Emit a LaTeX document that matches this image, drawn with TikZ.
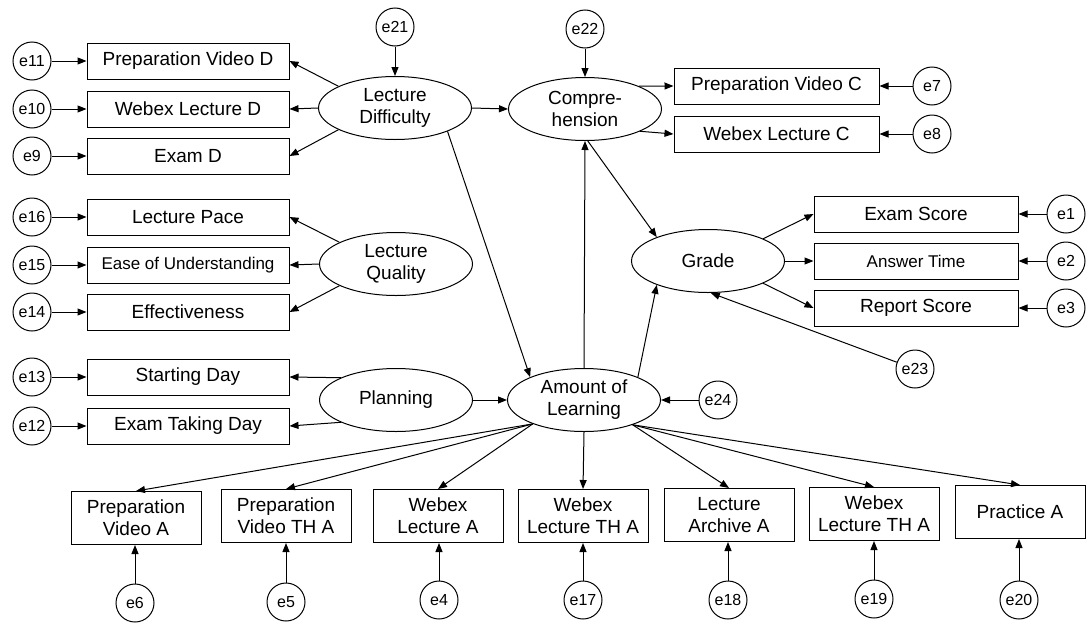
\documentclass[tikz,border=0pt]{standalone}
\usepackage{fontspec}
\setmainfont{Liberation Sans}
\usetikzlibrary{arrows.meta,shapes.geometric}
\begin{document}
\begin{tikzpicture}[x=1pt,y=-1pt,
  every node/.style={font=\fontsize{19}{22}\selectfont, text=black},
  lat/.style={draw, ellipse, line width=1pt, minimum width=153pt, minimum height=63pt, inner sep=0pt, align=center},
  obs/.style={draw, rectangle, line width=1pt, minimum width=202pt, minimum height=36pt, inner sep=0pt, align=center},
  obsr/.style={obs, minimum width=204pt},
  obsb/.style={draw, rectangle, line width=1pt, minimum width=130pt, minimum height=53pt, inner sep=0pt, align=center},
  err/.style={draw, circle, line width=1pt, minimum size=38pt, inner sep=0pt, font=\fontsize{16}{18}\selectfont},
  arr/.style={-{Triangle[length=9pt,width=7pt]}, line width=1pt},
  smalltext/.style={font=\fontsize{17}{20}\selectfont}
]
\useasboundingbox (0,0) rectangle (1086,624);

% latent variables
\node[lat] (ld) at (395,108) {Lecture\\Difficulty};
\node[lat] (comp) at (585,109) {Compre-\\hension};
\node[lat] (lq) at (396,264) {Lecture\\Quality};
\node[lat] (plan) at (396,400) {Planning};
\node[lat] (aol) at (584,400) {Amount of\\Learning};
\node[lat] (grade) at (708,261) {Grade};

% left observed
\node[obs] (pvd) at (188,61) {Preparation Video D};
\node[obs] (wld) at (188,109) {Webex Lecture D};
\node[obs] (ed) at (188,156) {Exam D};
\node[obs] (lp) at (188,217) {Lecture Pace};
\node[obs,smalltext] (eou) at (188,265) {Ease of Understanding};
\node[obs] (eff) at (188,312) {Effectiveness};
\node[obs] (sd) at (188,377) {Starting Day};
\node[obs] (etd) at (188,426) {Exam Taking Day};

% right observed
\node[obs, minimum width=205pt] (pvc) at (776.5,86) {Preparation Video C};
\node[obs, minimum width=205pt] (wlc) at (776.5,134) {Webex Lecture C};
\node[obsr] (es) at (916,214) {Exam Score};
\node[obsr,smalltext] (at) at (916,261) {Answer Time};
\node[obsr] (rs) at (916,308) {Report Score};

% bottom observed
\node[obsb] (pva) at (136,518) {Preparation\\Video A};
\node[obsb] (pvtha) at (286,516) {Preparation\\Video TH A};
\node[obsb] (wla) at (438,516) {Webex\\Lecture A};
\node[obsb] (wltha) at (583,516) {Webex\\Lecture TH A};
\node[obsb] (laa) at (729,515) {Lecture\\Archive A};
\node[obsb] (wlthb) at (874,514) {Webex\\Lecture TH A};
\node[obsb] (pa) at (1020,512) {Practice A};

% error terms
\node[err] (e11) at (32,61) {e11};
\node[err] (e10) at (32,109) {e10};
\node[err] (e9) at (32,156) {e9};
\node[err] (e16) at (32,217) {e16};
\node[err] (e15) at (32,265) {e15};
\node[err] (e14) at (32,312) {e14};
\node[err] (e13) at (32,377) {e13};
\node[err] (e12) at (32,426) {e12};
\node[err] (e21) at (395,27) {e21};
\node[err] (e22) at (585,29) {e22};
\node[err] (e7) at (932,86) {e7};
\node[err] (e8) at (932,134) {e8};
\node[err] (e1) at (1066,214) {e1};
\node[err] (e2) at (1066,261) {e2};
\node[err] (e3) at (1066,308) {e3};
\node[err] (e23) at (915,369) {e23};
\node[err] (e24) at (718,400) {e24};
\node[err] (e6) at (135,603) {e6};
\node[err] (e5) at (286,602) {e5};
\node[err] (e4) at (439,600) {e4};
\node[err] (e17) at (583,600) {e17};
\node[err] (e18) at (728,600) {e18};
\node[err] (e19) at (874,599) {e19};
\node[err] (e20) at (1019,600) {e20};

% error arrows
\foreach \e/\b in {e11/pvd,e10/wld,e9/ed,e16/lp,e15/eou,e14/eff,e13/sd,e12/etd}
  \draw[arr] (\e) -- (\e -| \b.west);
\foreach \e/\b in {e7/pvc,e8/wlc,e1/es,e2/at,e3/rs}
  \draw[arr] (\e) -- (\e -| \b.east);
\foreach \e/\b in {e6/pva,e5/pvtha,e4/wla,e17/wltha,e18/laa,e19/wlthb,e20/pa}
  \draw[arr] (\e) -- (\e |- \b.south);
\draw[arr] (e21) -- (ld);
\draw[arr] (e22) -- (comp);
\draw[arr] (e24) -- (aol.east);
\draw[arr] (e23) -- (grade.-85);

% measurement arrows
\draw[arr] (ld.159) -- (pvd.east);
\draw[arr] (ld.west) -- (wld.east);
\draw[arr] (ld.201) -- (ed.east);
\draw[arr] (lq.159) -- (lp.east);
\draw[arr] (lq.west) -- (eou.east);
\draw[arr] (lq.201) -- (eff.east);
\draw[arr] (plan.158) -- (sd.east);
\draw[arr] (plan.202) -- (etd.east);
\draw[arr] (comp.23.5) -- (pvc.west);
\draw[arr] (comp.-22) -- (wlc.west);
\draw[arr] (grade.22) -- (es.west);
\draw[arr] (grade.east) -- (at.west);
\draw[arr] (grade.-22) -- (rs.west);
\draw[arr] (aol.205) -- (pva.north);
\draw[arr] (aol.205) -- (pvtha.north);
\draw[arr] (aol.205) -- (wla.north);
\draw[arr] (aol.south) -- (wltha.north);
\draw[arr] (aol.-27) -- (laa.north);
\draw[arr] (aol.-27) -- (wlthb.north);
\draw[arr] (aol.-27) -- (pa.north);

% structural paths
\draw[arr] (ld.east) -- (comp.west);
\draw[arr] (ld.-24) -- (aol.157);
\draw[arr] (plan.east) -- (aol.west);
\draw[arr] (aol.north) -- (comp.south);
\draw[arr] (comp.-85) -- (grade.155);
\draw[arr] (aol.23) -- (grade.205);
\end{tikzpicture}
\end{document}
